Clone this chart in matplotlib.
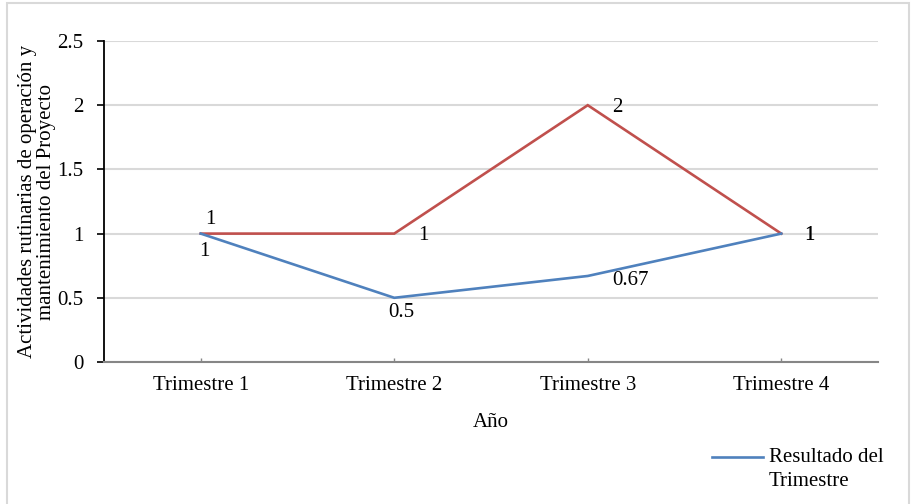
import matplotlib
matplotlib.use('Agg')
import matplotlib.pyplot as plt
from matplotlib.lines import Line2D
from matplotlib.patches import Rectangle

# Data
trimestres = ['Trimestre 1', 'Trimestre 2', 'Trimestre 3', 'Trimestre 4']
resultado = [1, 0.5, 0.67, 1]
meta = [1, 1, 2, 1]
resultado_labels = ['1', '0.5', '0.67', '1']
meta_labels = ['1', '1', '2', '1']

plt.rcParams['font.family'] = ['Liberation Serif', 'DejaVu Serif']

BLUE = '#4F81BD'
RED = '#C0504D'
W, H = 912, 504

fig = plt.figure(figsize=(9.12, 5.04), dpi=100)
ax = fig.add_axes([104 / W, 1 - 362 / H, 774 / W, 321 / H])

x = [i + 0.5 for i in range(len(trimestres))]
ax.plot(x, meta, color=RED, linewidth=1.9, solid_joinstyle='miter', zorder=3)
ax.plot(x, resultado, color=BLUE, linewidth=1.9, solid_joinstyle='round', zorder=4)

# data labels (pixel offsets from each point)
meta_off = [(10, 14), (29, -2), (30, -2), (28, -2)]
res_off = [(4, -18), (7, -15), (43, -5), (28, -2)]
for xi, v, lab, off in zip(x, meta, meta_labels, meta_off):
    ax.annotate(lab, (xi, v), xytext=off, textcoords='offset pixels',
                ha='center', va='center', fontsize=15)
for xi, v, lab, off in zip(x, resultado, resultado_labels, res_off):
    ax.annotate(lab, (xi, v), xytext=off, textcoords='offset pixels',
                ha='center', va='center', fontsize=15)

ax.set_xlim(0, 4)
ax.set_ylim(0, 2.5)
ax.set_yticks([0, 0.5, 1, 1.5, 2, 2.5])
ax.set_yticklabels(['0', '0.5', '1', '1.5', '2', '2.5'])
ax.set_xticks(x)
ax.set_xticklabels(trimestres)
ax.tick_params(axis='both', labelsize=15)
ax.tick_params(axis='y', direction='out', length=5, width=1.2, color='black', pad=10)
ax.tick_params(axis='x', direction='in', length=3, width=1, color='#868686', pad=10)

ax.grid(axis='y', color='#D9D9D9', linewidth=1.5)
ax.set_axisbelow(True)
for s in ['top', 'right']:
    ax.spines[s].set_visible(False)
ax.spines['left'].set_color('black')
ax.spines['left'].set_linewidth(1.3)
ax.spines['bottom'].set_color('#868686')
ax.spines['bottom'].set_linewidth(1.5)

ax.set_xlabel('Año', fontsize=15, labelpad=13)
ax.set_ylabel('Actividades rutinarias de operación y\nmantenimiento del Proyecto',
              fontsize=15, linespacing=1.0, va='center')
ax.yaxis.set_label_coords(-67 / 774, 0.5)

# legend (only the blue series is listed), laid out like the Excel legend
fig.add_artist(Line2D([712 / W, 763 / W], [1 - 457 / H, 1 - 457 / H],
                      color=BLUE, linewidth=1.9, transform=fig.transFigure))
fig.text(769 / W, 1 - 448 / H, 'Resultado del\nTrimestre', fontsize=15,
         ha='left', va='top', linespacing=1.35)

# chart border
fig.patches.append(Rectangle((7 / W, -0.1), 902 / W, 1.1 - 3 / H,
                             transform=fig.transFigure, fill=False,
                             edgecolor='#D9D9D9', linewidth=1.5))

fig.savefig('out.png', dpi=100)
